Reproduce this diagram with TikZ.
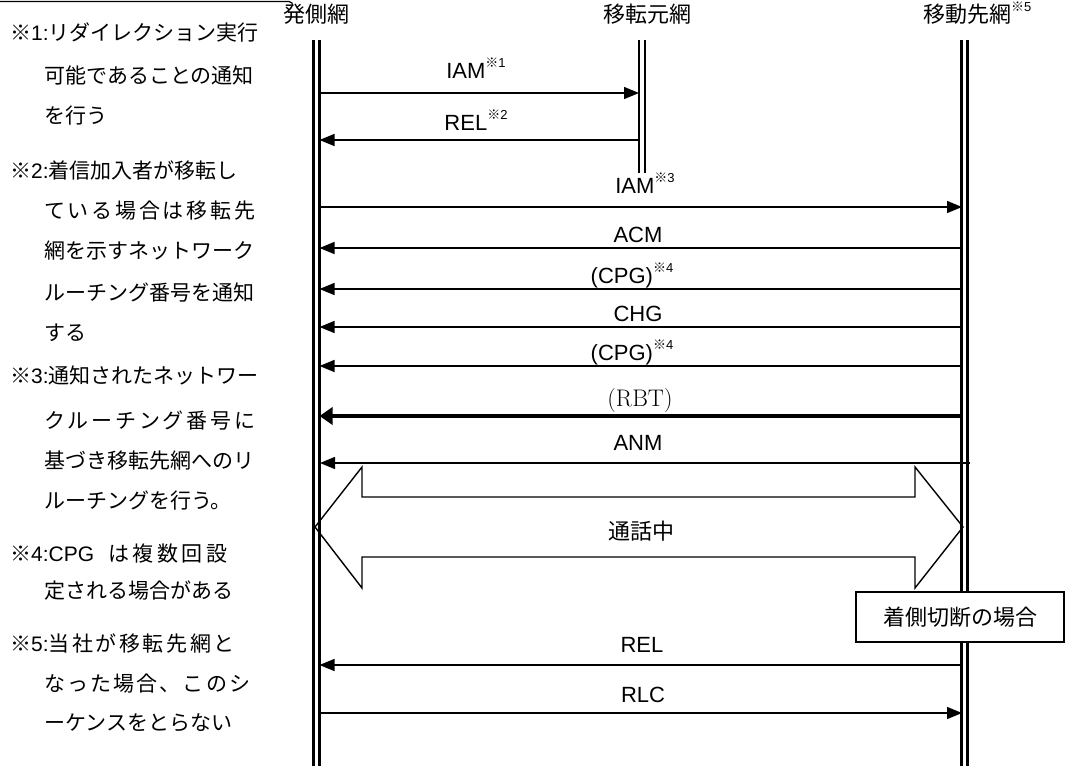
\documentclass[tikz,border=0pt]{standalone}
\usepackage{fontspec}
\newfontfamily\jp{Noto Sans CJK JP}
\newfontfamily\ar{Liberation Sans}
\usetikzlibrary{arrows.meta}
\makeatletter
\def\jsp@first#1{#1\jsp@rest}
\def\jsp@rest#1{\ifx#1\relax\else\hfil#1\expandafter\jsp@rest\fi}
\newcommand\jspread[2]{\makebox[#1][s]{\jsp@first#2\relax}}
\makeatother
\newcommand\smallnote[1]{\raisebox{0.5em}{\fontsize{13}{13}\selectfont{\jp ※}{\ar #1}}}
\begin{document}
\begin{tikzpicture}[x=1pt,y=-1pt,
  life/.style={line width=2.2pt},
  msg/.style={line width=1.4pt,-{Triangle[length=15pt,width=12pt]}},
  thickmsg/.style={line width=4.5pt,-{Triangle[length=13pt,width=17pt]}},
  lbl/.style={font={\ar\fontsize{22}{22}\selectfont},anchor=base,inner sep=0pt},
  jlbl/.style={font={\jp\fontsize{22}{22}\selectfont},anchor=base,inner sep=0pt},
  nl/.style={font={\jp\fontsize{21}{21}\selectfont},anchor=base west,inner sep=0pt}]
\useasboundingbox (0,0) rectangle (1066,766);
\fill[white] (0,0) rectangle (1066,766);
% top-left remnant line
\draw[line width=1.2pt] (0,1.5) -- (289,1.5) to[out=0,in=90] (293,6);
% headers
\node[jlbl] (h1) at (316,22) {発側網};
\node[jlbl] (h2) at (647,22) {移転元網};
\node[jlbl,anchor=base west] (h3) at (923,22) {移動先網\smallnote{5}};
% lifelines
\coordinate (Lt) at (316.5,40); \coordinate (Lb) at (316.5,766);
\coordinate (Mt) at (642,40);   \coordinate (Mb) at (642,173);
\coordinate (Rt) at (964.5,40); \coordinate (Rb) at (964.5,766);
\foreach \s in {-3,3}{
  \draw[life] ([xshift=\s pt]Lt) -- ([xshift=\s pt]Lb);
  \draw[life] ([xshift=\s pt]Mt) -- ([xshift=\s pt]Mb);
  \draw[life] ([xshift=\s pt]Rt) -- ([xshift=\s pt]Rb);
}
% message end points
\coordinate (a1l) at (320,93);  \coordinate (a1r) at (639,93);
\coordinate (a2l) at (319.5,140); \coordinate (a2r) at (639,140);
\coordinate (a3l) at (320,207); \coordinate (a3r) at (962,207);
\coordinate (a4l) at (319.5,248); \coordinate (a4r) at (963,248);
\coordinate (a5l) at (319.5,289); \coordinate (a5r) at (963,289);
\coordinate (a6l) at (319.5,327); \coordinate (a6r) at (963,327);
\coordinate (a7l) at (319.5,366); \coordinate (a7r) at (963,366);
\coordinate (a8l) at (319.5,416); \coordinate (a8r) at (961,416);
\coordinate (a9l) at (320,463); \coordinate (a9r) at (970,463);
\coordinate (a10l) at (319.5,665); \coordinate (a10r) at (962,665);
\coordinate (a11l) at (321,713); \coordinate (a11r) at (962,713);
\draw[msg] (a1l) -- (a1r);
\draw[msg] (a2r) -- (a2l);
\draw[msg] (a3l) -- (a3r);
\draw[msg] (a4r) -- (a4l);
\draw[msg] (a5r) -- (a5l);
\draw[msg] (a6r) -- (a6l);
\draw[msg] (a7r) -- (a7l);
\draw[thickmsg] (a8r) -- (a8l);
\draw[msg] (a9r) -- (a9l);
\draw[msg] (a10r) -- (a10l);
\draw[msg] (a11l) -- (a11r);
% labels
\node[lbl] (t1) at (476,78) {IAM\smallnote{1}};
\node[lbl] (t2) at (476,130) {REL\smallnote{2}};
\node[lbl] (t3) at (645,193) {IAM\smallnote{3}};
\node[lbl] (t4) at (638,242) {ACM};
\node[lbl] (t5) at (632,283) {(CPG)\smallnote{4}};
\node[lbl] (t6) at (638,321) {CHG};
\node[lbl] (t7) at (632,360) {(CPG)\smallnote{4}};
\node[font={\fontsize{24}{24}\selectfont},anchor=base,inner sep=0pt] (t8) at (640,406) {(RBT)};
\node[lbl] (t9) at (638,450) {ANM};
\node[lbl] (t10) at (642,652) {REL};
\node[lbl] (t11) at (643,702) {RLC};
% big double arrow
\draw[line width=1.4pt,line join=miter] (315,527) -- (362,467) -- (362,497) -- (915,497) -- (915,467)
  -- (963,527) -- (915,588) -- (915,557) -- (362,557) -- (362,588) -- cycle;
\node[jlbl] (talk) at (641,539) {通話中};
% box
\node[draw,fill=white,line width=1.2pt,minimum width=208pt,minimum height=50pt,inner sep=0pt,
  font={\jp\fontsize{22}{22}\selectfont}] (box) at (960,617) {着側切断の場合};
% notes
\node[nl] (n1) at (10,40) {※{\ar 1:}リダイレクション実行};
\node[nl] (n2) at (44,83) {可能であることの通知};
\node[nl] (n3) at (44,123) {を行う};
\node[nl] (n4) at (10,178) {※{\ar 2:}着信加入者が移転し};
\node[nl] (n5) at (44,218) {\jspread{211pt}{ている場合は移転先}};
\node[nl] (n6) at (44,258) {網を示すネットワーク};
\node[nl] (n7) at (44,300) {ルーチング番号を通知};
\node[nl] (n8) at (44,340) {する};
\node[nl] (n9) at (10,383) {※{\ar 3:}通知されたネットワー};
\node[nl] (n10) at (44,428) {\jspread{211pt}{クルーチング番号に}};
\node[nl] (n11) at (44,468) {基づき移転先網へのリ};
\node[nl] (n12) at (44,508) {ルーチングを行う。};
\node[nl] (n13) at (10,561) {※{\ar 4:CPG}\hspace{14pt}\jspread{119pt}{は複数回設}};
\node[nl] (n14) at (44,598) {定される場合がある};
\node[nl] (n15) at (10,651) {※{\ar 5:}\jspread{186pt}{当社が移転先網と}};
\node[nl] (n16) at (44,691) {\jspread{206pt}{なった場合、このシ}};
\node[nl] (n17) at (44,730) {ーケンスをとらない};
\end{tikzpicture}
\end{document}
